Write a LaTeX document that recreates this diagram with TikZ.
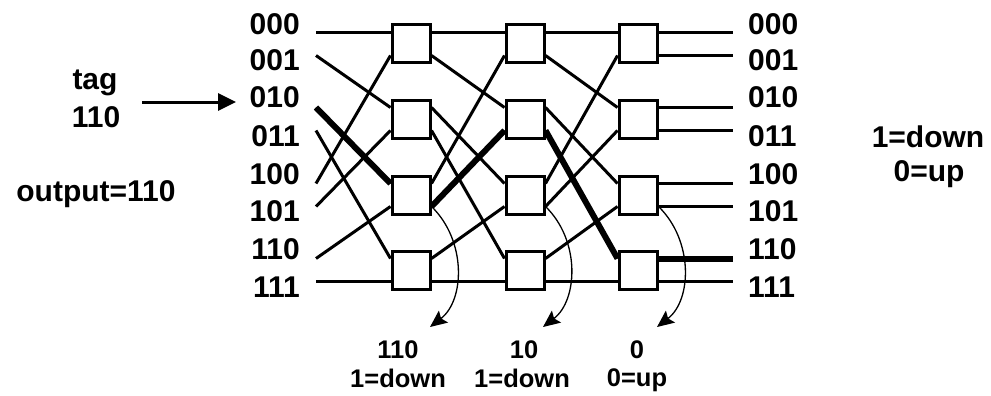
\documentclass[tikz,border=0pt]{standalone}
\usepackage{fontspec}
\setmainfont{Liberation Sans}
\usetikzlibrary{calc}
\usetikzlibrary{arrows.meta}

\tikzset{
  sw/.style={draw, fill=white, line width=3pt, minimum size=38pt, inner sep=0pt},
  wire/.style={line width=3pt},
  route/.style={line width=6pt},
  lbl/.style={font=\fontsize{30}{36}\selectfont\bfseries, inner sep=0pt, text depth=0pt},
  sublbl/.style={lbl, font=\fontsize{25.5}{30}\selectfont\bfseries},
  bitarrow/.style={line width=1.3pt, -{Stealth[length=17pt,width=15pt,inset=3pt]}}
}

\begin{document}
\begin{tikzpicture}[x=1pt, y=-1pt]
\useasboundingbox (0,0) rectangle (991,396);

% Switch boxes: three stages of four 2x2 switches
\foreach \c/\x in {1/411,2/525,3/638} {
  \foreach \r/\y in {0/44,1/119,2/195,3/270} {
    \node[sw] (b\c\r) at (\x,\y) {};
  }
}
% Ports on the sides of each switch
\foreach \c in {1,2,3} {
  \foreach \p in {0,...,7} {
    \pgfmathtruncatemacro\r{div(\p,2)}
    \pgfmathsetmacro\dy{mod(\p,2)==0 ? -11.5 : 11.5}
    \coordinate (l\c\p) at ($(b\c\r.west)+(0,\dy)$);
    \coordinate (r\c\p) at ($(b\c\r.east)+(0,\dy)$);
  }
}

% Input and output labels
\foreach \p/\t/\y in {0/000/24,1/001/60,2/010/97,3/011/136,4/100/174,5/101/211,6/110/249,7/111/287} {
  \node[lbl, anchor=east] (i\p) at (300,\y) {\t};
  \node[lbl, anchor=west] (o\p) at (748,\y) {\t};
  \coordinate (in\p) at (316,0 |- l1\p);
  \coordinate (out\p) at (733,0 |- r3\p);
}

% Perfect shuffle between the stages
\foreach \p in {0,...,7} {
  \pgfmathtruncatemacro\q{\p==7 ? 7 : mod(2*\p,7)}
  \draw[wire] (in\p) -- (l1\q);
  \draw[wire] (r1\p) -- (l2\q);
  \draw[wire] (r2\p) -- (l3\q);
  \draw[wire] (r3\p) -- (out\p);
}

% Path taken by the message with tag 110
\draw[route] (in2) -- (l14);
\draw[route] (r15) -- (l23);
\draw[route] (r23) -- (l36);
\draw[route] (r36) -- (out6);

% Redraw the switches over the wires
\foreach \c in {1,2,3} {
  \foreach \r in {0,...,3} {
    \node[sw] at (b\c\r) {};
  }
}

% Tag bits consumed at each stage
\node[sublbl] (bit1) at (398,350) {110};
\node[sublbl] (dir1) at (398,378) {1=down};
\node[sublbl] (bit2) at (524,350) {10};
\node[sublbl] (dir2) at (522,378) {1=down};
\node[sublbl] (bit3) at (637,350) {0};
\node[sublbl] (dir3) at (637,378) {0=up};
\coordinate (t1) at (430,327);
\coordinate (t2) at (543,327);
\coordinate (t3) at (657,327);
\draw[bitarrow] (r15) .. controls ($(r15)+(35,34)$) and ($(t1)+(35,-27)$) .. (t1);
\draw[bitarrow] (r25) .. controls ($(r25)+(35,34)$) and ($(t2)+(35,-27)$) .. (t2);
\draw[bitarrow] (r35) .. controls ($(r35)+(35,34)$) and ($(t3)+(35,-27)$) .. (t3);

% Tag and legends
\node[lbl] (tag) at (95,80) {tag};
\node[lbl] (tagval) at (96,117) {110};
\node[lbl] (outval) at (96,191) {output=110};
\node[lbl] (down) at (928,137) {1=down};
\node[lbl] (up) at (929,171) {0=up};
\coordinate (ts) at (142,102);
\coordinate (te) at (236,102);
\draw[wire, -{Triangle[length=18pt,width=17pt]}] (ts) -- (te);
\end{tikzpicture}
\end{document}
